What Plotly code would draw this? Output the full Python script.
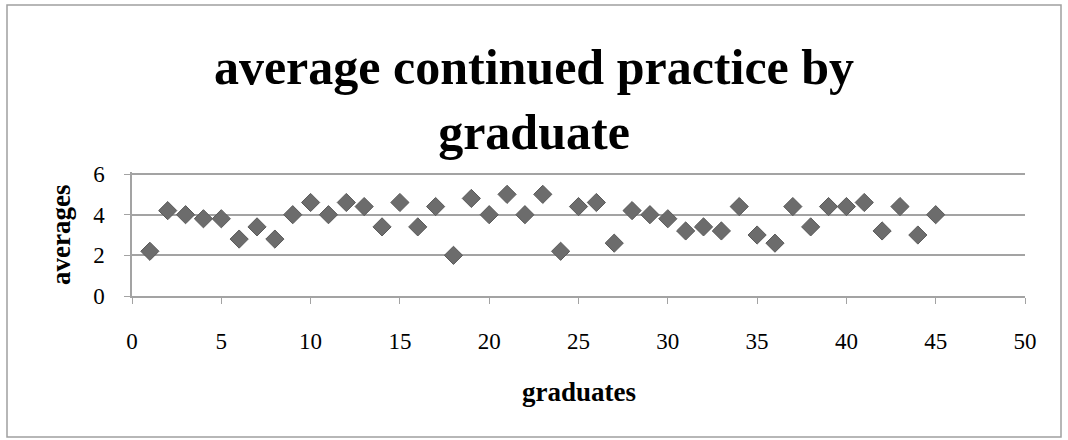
import plotly.graph_objects as go

# Graduate index and their average continued-practice score
graduates = list(range(1, 46))
averages = [
    2.2, 4.2, 4.0, 3.8, 3.8, 2.8, 3.4, 2.8, 4.0, 4.6,
    4.0, 4.6, 4.4, 3.4, 4.6, 3.4, 4.4, 2.0, 4.8, 4.0,
    5.0, 4.0, 5.0, 2.2, 4.4, 4.6, 2.6, 4.2, 4.0, 3.8,
    3.2, 3.4, 3.2, 4.4, 3.0, 2.6, 4.4, 3.4, 4.4, 4.4,
    4.6, 3.2, 4.4, 3.0, 4.0,
]
x_ticks = [0, 5, 10, 15, 20, 25, 30, 35, 40, 45, 50]
y_ticks = [0, 2, 4, 6]

W, H = 1068, 440
L, R, T, B = 132, 43, 172, 144
pw, ph = W - L - R, H - T - B

FONT = "Liberation Serif"
GRID = "#a3a3a3"

fig = go.Figure(
    go.Scatter(
        x=graduates,
        y=averages,
        mode="markers",
        marker=dict(symbol="diamond", size=14, color="#6c6c6c",
                    line=dict(color="#5a5a5a", width=1)),
        showlegend=False,
    )
)

fig.update_layout(
    width=W,
    height=H,
    margin=dict(l=L, r=R, t=T, b=B),
    paper_bgcolor="white",
    plot_bgcolor="white",
    font=dict(family=FONT, color="black"),
    title=dict(
        text="<b>average continued practice by<br>graduate</b>",
        font=dict(family=FONT, size=50, color="black"),
        x=0.5, xanchor="center",
        y=1 - 84 / H, yanchor="middle",
        yref="container",
    ),
)

fig.update_xaxes(
    range=[0, 50],
    tickvals=x_ticks,
    ticks="outside", ticklen=6, tickcolor=GRID, tickwidth=1,
    showline=True, linecolor=GRID, linewidth=1.5,
    showgrid=False, zeroline=False,
    tickfont=dict(family=FONT, size=23),
    ticklabelstandoff=18,
)
# A little headroom above 6 so the top gridline is drawn inside the plot
fig.update_yaxes(
    range=[0, 6.1],
    tickvals=y_ticks,
    ticks="outside", ticklen=6, tickcolor=GRID, tickwidth=1,
    showline=True, linecolor=GRID, linewidth=1.5,
    showgrid=True, gridcolor=GRID, gridwidth=1.5,
    zeroline=False,
    tickfont=dict(family=FONT, size=23),
    ticklabelstandoff=15,
)

# Axis titles
fig.add_annotation(
    text="<b>graduates</b>", xref="paper", yref="paper",
    x=0.5, y=-(392 - (T + ph)) / ph, xanchor="center", yanchor="middle",
    showarrow=False, font=dict(family=FONT, size=27),
)
fig.add_annotation(
    text="<b>averages</b>", xref="paper", yref="paper",
    x=-(L - 61) / pw, y=0.5 - 1 / ph, xanchor="center", yanchor="middle",
    textangle=-90, showarrow=False, font=dict(family=FONT, size=27),
)

# Chart frame
fig.add_shape(
    type="rect", xref="paper", yref="paper",
    x0=(7 - L) / pw, x1=(1061 - L) / pw,
    y0=-(437 - (T + ph)) / ph, y1=1 + (T - 5) / ph,
    line=dict(color="#a0a0a0", width=1.5), fillcolor="rgba(0,0,0,0)",
    layer="below",
)

fig.write_html("out.html")
